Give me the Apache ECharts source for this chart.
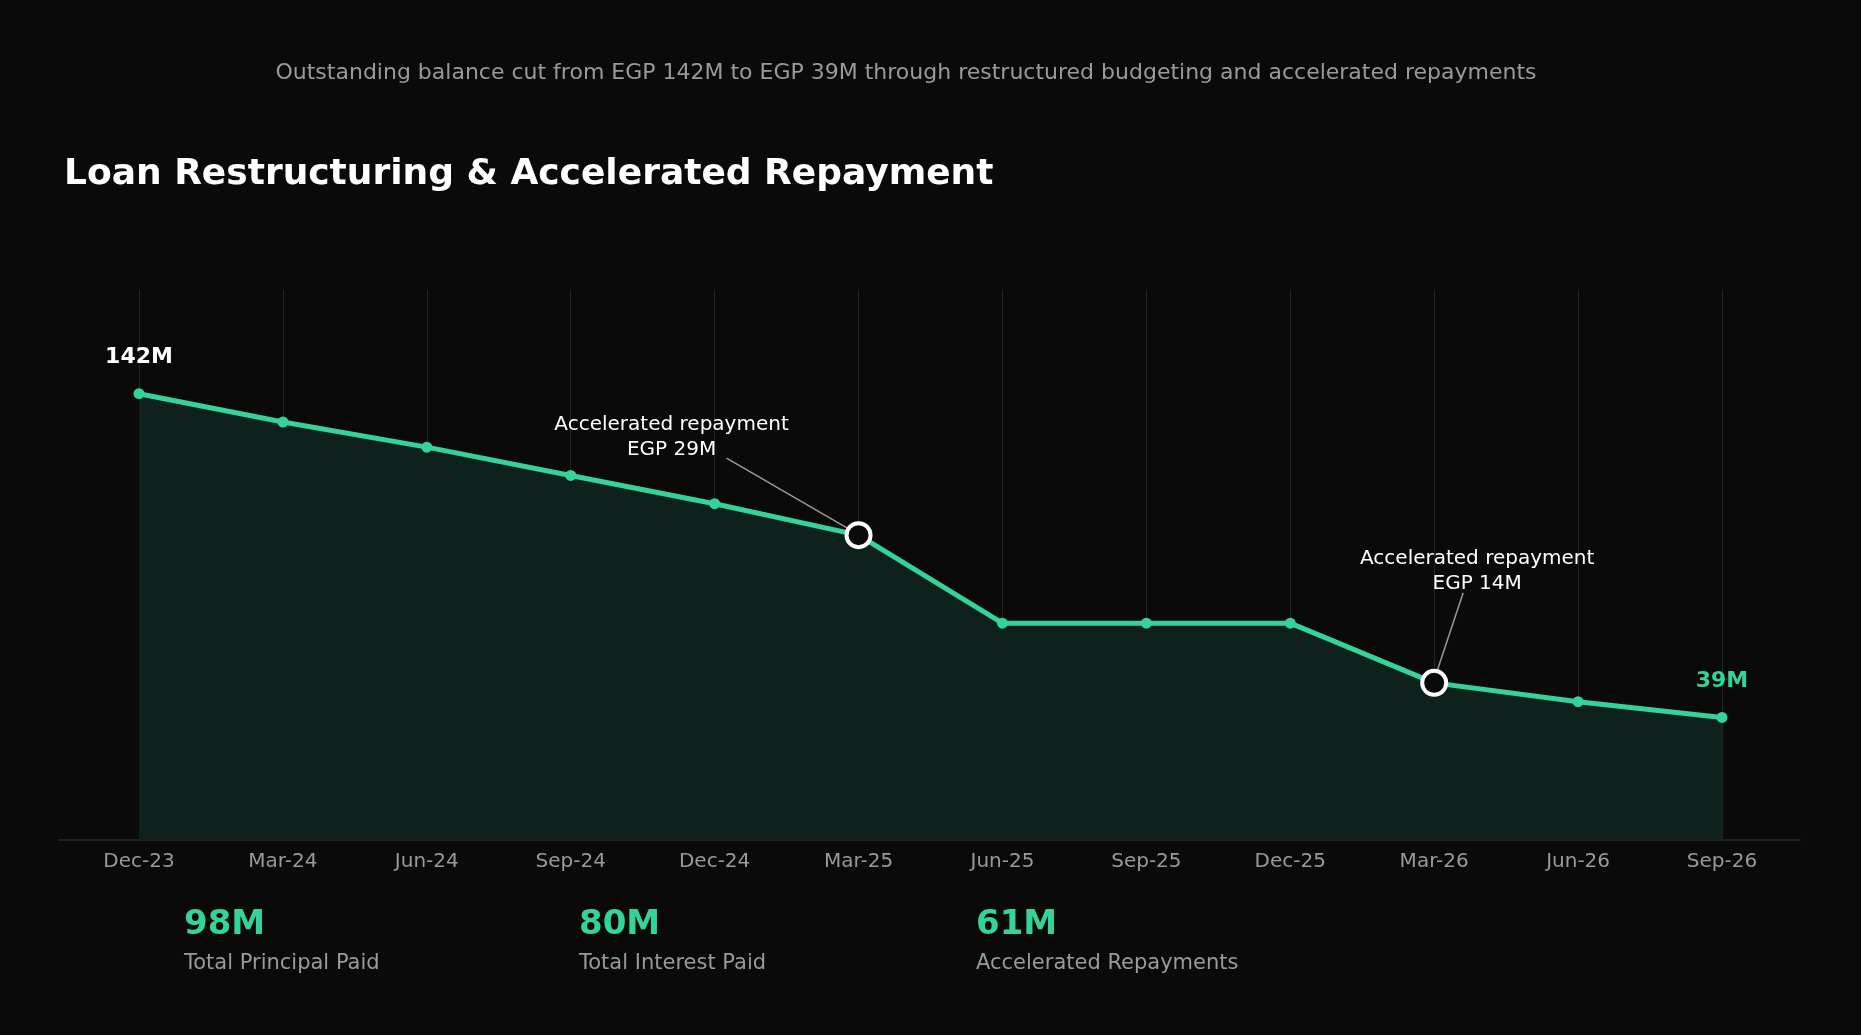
<!DOCTYPE html>
<html>
<head>
<meta charset="utf-8">
<script src="https://cdn.jsdelivr.net/npm/echarts@6/dist/echarts.min.js"></script>
<style>
html,body{margin:0;padding:0;background:#0a0a0a;}
#chart{width:1861px;height:1035px;}
</style>
</head>
<body>
<div id="chart"></div>
<script>
var months = ['Dec-23','Mar-24','Jun-24','Sep-24','Dec-24','Mar-25','Jun-25','Sep-25','Dec-25','Mar-26','Jun-26','Sep-26'];
var balance = [142, 133, 125, 116, 107, 97, 69, 69, 69, 50, 44, 39];
var highlightIdx = [5, 9];
var annotations = ['Accelerated repayment\nEGP 29M', 'Accelerated repayment\nEGP 14M'];
var kpiValues = ['98M', '80M', '61M'];
var kpiLabels = ['Total Principal Paid', 'Total Interest Paid', 'Accelerated Repayments'];

var green = '#34d399';
var font = 'DejaVu Sans';

var myChart = echarts.init(document.getElementById('chart'));

var data = balance.map(function (v, i) {
	var d = { value: v };
	if (highlightIdx.indexOf(i) >= 0) {
		d.symbolSize = 24;
		d.itemStyle = { color: '#0a0a0a', borderColor: '#ffffff', borderWidth: 4 };
	}
	if (i === 0) {
		d.label = { show: true, formatter: '142M', color: '#ffffff' };
	}
	if (i === balance.length - 1) {
		d.label = { show: true, formatter: '39M', color: green };
	}
	return d;
});

var kpiGraphics = [];
var kpiX = [184, 579, 976];
kpiValues.forEach(function (v, i) {
	kpiGraphics.push({ type: 'text', left: kpiX[i], top: 908, style: { text: v, fill: green, font: 'bold 34px ' + font } });
	kpiGraphics.push({ type: 'text', left: kpiX[i], top: 953, style: { text: kpiLabels[i], fill: '#9a9a9a', font: '21px ' + font } });
});

option = {
	backgroundColor: '#0a0a0a',
	animation: false,
	title: [{
		text: 'Outstanding balance cut from EGP 142M to EGP 39M through restructured budgeting and accelerated repayments',
		left: 901, top: 57, textAlign: 'center',
		textStyle: { color: '#9a9a9a', fontSize: 22, fontWeight: 'normal', fontFamily: font }
	}, {
		text: 'Loan Restructuring & Accelerated Repayment',
		left: 59, top: 152,
		textStyle: { color: '#ffffff', fontSize: 36, fontWeight: 'bold', fontFamily: font }
	}],
	grid: [
		{ left: 139, right: 139, top: 290, bottom: 195 },
		{ left: 59, right: 61, top: 290, bottom: 195 }
	],
	xAxis: [{
		type: 'category', gridIndex: 0, data: months, boundaryGap: false,
		axisLine: { show: false }, axisTick: { show: false },
		axisLabel: { color: '#9a9a9a', fontSize: 20, margin: 12, fontFamily: font },
		splitLine: { show: true, lineStyle: { color: '#1e2622', width: 1 } }
	}, {
		type: 'value', gridIndex: 1, min: 0, max: 1,
		axisLine: { show: true, onZero: false, lineStyle: { color: '#2a2a2a', width: 1.5 } },
		axisTick: { show: false }, axisLabel: { show: false }, splitLine: { show: false }
	}],
	yAxis: [{
		type: 'value', gridIndex: 0, min: 0, max: 175,
		axisLine: { show: false }, axisTick: { show: false }, axisLabel: { show: false }, splitLine: { show: false }
	}, {
		type: 'value', gridIndex: 1, min: 0, max: 1, show: false
	}],
	series: [{
		type: 'line', xAxisIndex: 0, yAxisIndex: 0,
		data: data,
		symbol: 'circle', symbolSize: 11,
		itemStyle: { color: green },
		lineStyle: { color: green, width: 5 },
		areaStyle: { color: '#0f211c', opacity: 1 },
		label: { position: 'top', distance: 20, fontSize: 22, fontWeight: 'bold', fontFamily: font },
		z: 3
	}],
	graphic: kpiGraphics
};

myChart.setOption(option);

// annotations with leader lines, anchored to the data points
var offsets = [
	{ tx: -187, ty: -123, lx: -132, ly: -77 },
	{ tx: 43, ty: -137, lx: 29, ly: -90 }
];
var extra = [];
highlightIdx.forEach(function (idx, k) {
	var p = myChart.convertToPixel({ seriesIndex: 0 }, [idx, balance[idx]]);
	var o = offsets[k];
	extra.push({
		type: 'line', z: 2,
		shape: { x1: p[0] + o.lx, y1: p[1] + o.ly, x2: p[0] - (k === 0 ? 6 : -3), y2: p[1] - (k === 0 ? 4 : 12) },
		style: { stroke: '#9a9a9a', lineWidth: 1.5 }
	});
	extra.push({
		type: 'text', z: 5,
		x: p[0] + o.tx, y: p[1] + o.ty,
		style: { text: annotations[k], fill: '#ffffff', font: '20px ' + font, textAlign: 'center', lineHeight: 25 }
	});
});
myChart.setOption({ graphic: kpiGraphics.concat(extra) }, { replaceMerge: ['graphic'] });
</script>
</body>
</html>
